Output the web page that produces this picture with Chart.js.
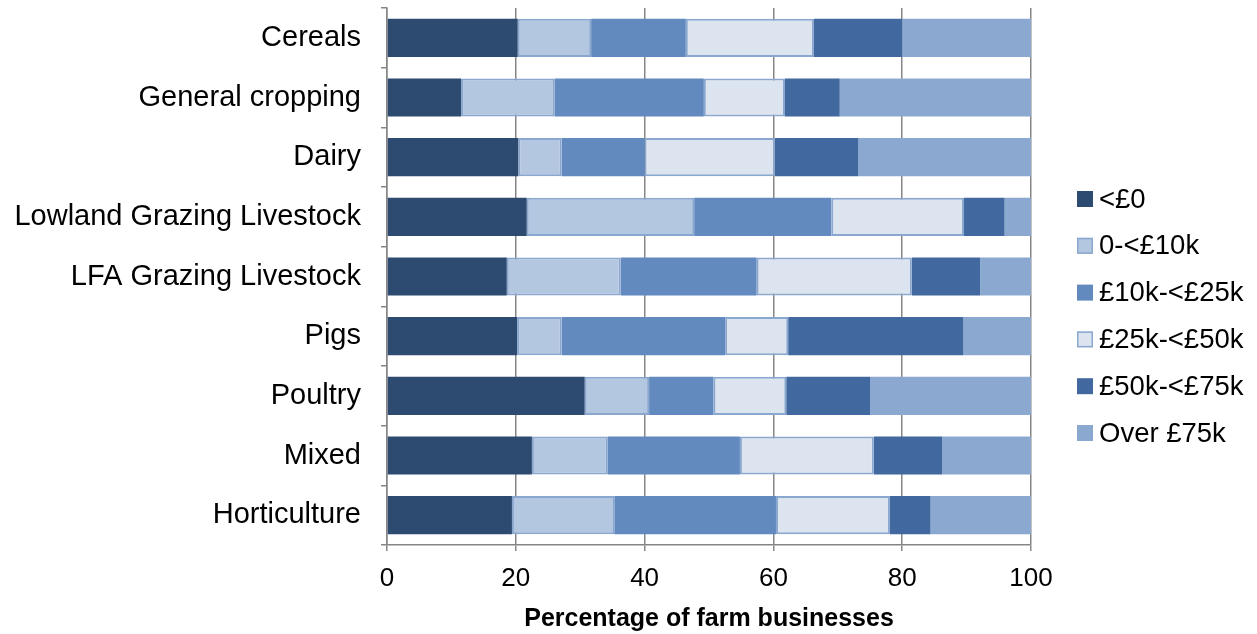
<!DOCTYPE html>
<html>
<head>
<meta charset="utf-8">
<script src="https://cdn.jsdelivr.net/npm/chart.js@4/dist/chart.umd.min.js"></script>
<style>
    html, body { margin: 0; padding: 0; background: #fff; }
    #wrap { width: 1257px; height: 634px; position: relative; }
</style>
</head>
<body>
<div id="wrap"><canvas id="farmChart"></canvas></div>
<script>
// farm types (y axis)
const farmTypes = ['Cereals', 'General cropping', 'Dairy', 'Lowland Grazing Livestock',
    'LFA Grazing Livestock', 'Pigs', 'Poultry', 'Mixed', 'Horticulture'];

// income bands (legend)
const bandNames = ['<£0', '0-<£10k', '£10k-<£25k', '£25k-<£50k', '£50k-<£75k', 'Over £75k'];

// % of farm businesses in each band, same order as farmTypes
const below0    = [20.3, 11.5, 20.4, 21.7, 18.6, 20.2, 30.7, 22.5, 19.4];
const to10k     = [11.4, 14.5,  6.7, 26.0, 17.7,  6.9, 10.0, 11.8, 15.9];
const to25k     = [14.7, 23.2, 12.9, 21.3, 21.1, 25.4, 10.0, 20.5, 25.1];
const to50k     = [19.9, 12.6, 20.2, 20.6, 24.1,  9.8, 11.3, 20.8, 17.7];
const to75k     = [13.7,  8.5, 13.0,  6.3, 10.6, 27.2, 13.0, 10.6,  6.3];
const over75k   = [20.0, 29.7, 26.8,  4.1,  7.9, 10.5, 25.0, 13.8, 15.6];

const xTicks = [0, 20, 40, 60, 80, 100];

const fills = ['#2d4a70', '#b3c7e1', '#628abf', '#dce4f0', '#41699f', '#8ba9d0'];
const edges = ['#2d4a70', '#8aa7d0', '#628abf', '#8aa7d0', '#41699f', '#8ba9d0'];
const edgeW = [0, 2, 0, 2, 0, 0];

const FONT = "'Liberation Sans', Arial, sans-serif";
const GRID = '#868686';

const series = [below0, to10k, to25k, to50k, to75k, over75k];
const datasets = series.map((vals, i) => ({
    label: bandNames[i],
    data: vals,
    backgroundColor: fills[i],
    borderColor: edges[i],
    borderWidth: edgeW[i],
    borderSkipped: false,
    barPercentage: 0.64,
    categoryPercentage: 1.0
}));

// legend drawn by hand on the right so box/text spacing can be set freely
const sideLegend = {
    id: 'sideLegend',
    afterDraw(chart) {
        const ctx = chart.ctx;
        ctx.save();
        ctx.font = '27.5px ' + FONT;
        ctx.textBaseline = 'middle';
        ctx.textAlign = 'left';
        chart.data.datasets.forEach((ds, i) => {
            const y = 199 + i * 46.8;
            ctx.fillStyle = ds.backgroundColor;
            ctx.fillRect(1077, y - 8, 16, 16);
            if (ds.borderWidth) {
                ctx.strokeStyle = ds.borderColor;
                ctx.lineWidth = 1.5;
                ctx.strokeRect(1077.75, y - 7.25, 14.5, 14.5);
            }
            ctx.fillStyle = '#000';
            ctx.fillText(ds.label, 1099, y + 1);
        });
        ctx.restore();
    }
};

const ctx = document.getElementById('farmChart').getContext('2d');
const farmChart = new Chart(ctx, {
    type: 'bar',
    data: { labels: farmTypes, datasets: datasets },
    plugins: [sideLegend],
    options: {
        indexAxis: 'y',
        responsive: true,
        maintainAspectRatio: false,
        animation: false,
        layout: { padding: { left: 0, right: 226, top: 8, bottom: 0 } },
        plugins: {
            legend: { display: false },
            tooltip: { enabled: false }
        },
        scales: {
            x: {
                stacked: true,
                min: 0,
                max: 100,
                afterBuildTicks: axis => { axis.ticks = xTicks.map(v => ({ value: v })); },
                afterFit: scale => { scale.height = 89; },
                ticks: {
                    color: '#000',
                    font: { family: FONT, size: 26 },
                    padding: 12
                },
                grid: { color: GRID, lineWidth: 1.5, tickLength: 6, drawTicks: true },
                border: { color: GRID, width: 1.5 },
                title: {
                    display: true,
                    text: 'Percentage of farm businesses',
                    color: '#000',
                    font: { family: FONT, size: 25, weight: 'bold' },
                    padding: { top: 0, bottom: 0 }
                }
            },
            y: {
                stacked: true,
                afterFit: scale => {
                    // labels sit inside the category bands, so no extra room at the ends
                    scale.width = 387;
                    scale.paddingTop = 0;
                    scale.paddingBottom = 0;
                },
                ticks: {
                    color: '#000',
                    font: { family: FONT, size: 29 },
                    padding: 20
                },
                grid: { color: GRID, lineWidth: 1.5, drawOnChartArea: false, tickLength: 6, offset: true },
                border: { color: GRID, width: 1.5 }
            }
        }
    }
});
</script>
</body>
</html>
